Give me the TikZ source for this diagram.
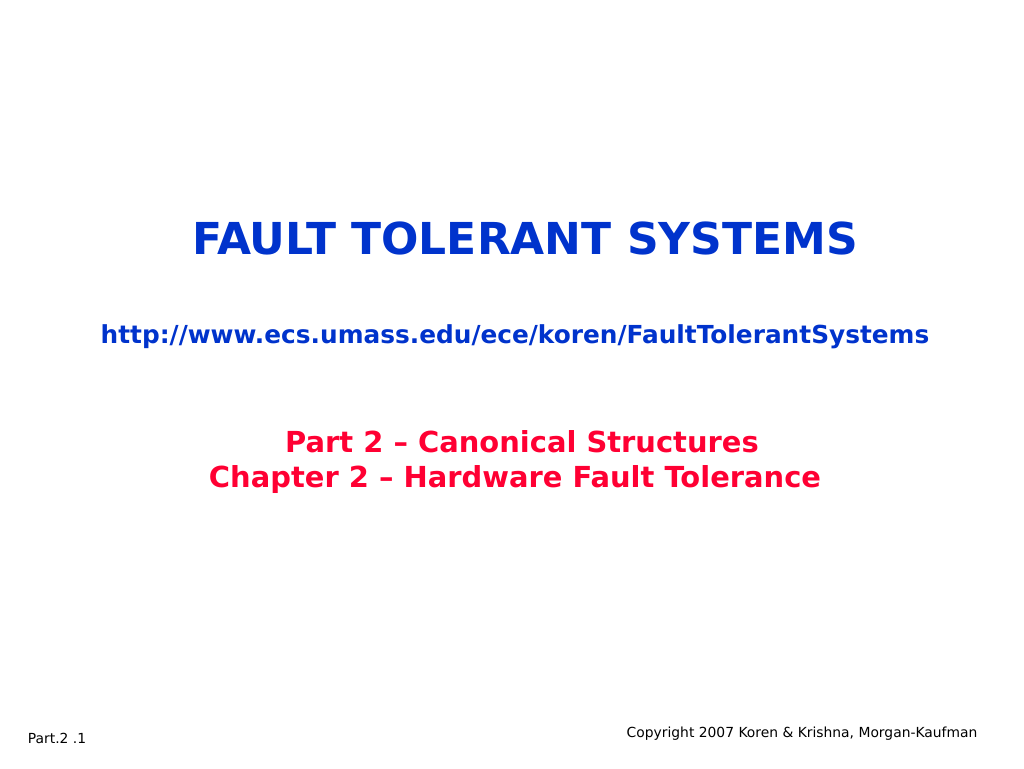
\documentclass[tikz,border=0pt]{standalone}
\usepackage{fontspec}
\setmainfont{DejaVu Sans}
\definecolor{slideblue}{RGB}{0,51,204}
\definecolor{slidered}{RGB}{255,0,51}
\tikzset{
    title/.style={text=slideblue, font=\fontsize{33}{38}\selectfont\bfseries},
    link/.style={text=slideblue, font=\fontsize{18.6}{22}\selectfont\bfseries},
    part/.style={text=slidered, font=\fontsize{21.7}{25}\selectfont\bfseries},
    foot/.style={text=black, font=\fontsize{10.4}{12}\selectfont},
}
\begin{document}
\begin{tikzpicture}[x=0.75pt, y=-0.75pt]
            \useasboundingbox (0,0) rectangle (1024,768);
            \node[title] (T) at (525, 238) {FAULT TOLERANT SYSTEMS};
            \node[link] (U) at (515, 337) {http://www.ecs.umass.edu/ece/koren/FaultTolerantSystems};
            \node[part] (P) at (522, 442) {Part 2 – Canonical Structures};
            \node[part] (C) at (515, 480) {Chapter 2 – Hardware Fault Tolerance};
            \node[foot] (N) at (57, 738) {Part.2 .1};
            \node[foot] (R) at (802, 734) {Copyright 2007 Koren \& Krishna, Morgan-Kaufman};
        \end{tikzpicture}
\end{document}
